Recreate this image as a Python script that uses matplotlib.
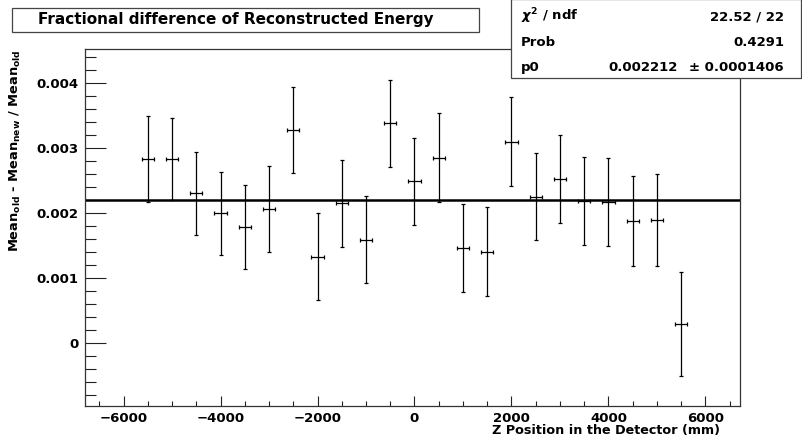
import matplotlib.pyplot as plt
from matplotlib.patches import Rectangle
from matplotlib.ticker import MultipleLocator, FuncFormatter

plt.rcParams['font.family'] = ['DejaVu Sans']
plt.rcParams['font.weight'] = 'bold'
plt.rcParams['mathtext.fontset'] = 'dejavusans'

# z position of each slice (mm)
z_pos = [-5500, -5000, -4500, -4000, -3500, -3000, -2500, -2000, -1500, -1000, -500, 0,
         500, 1000, 1500, 2000, 2500, 3000, 3500, 4000, 4500, 5000, 5500]
frac_diff = [0.002833, 0.002842, 0.002305, 0.001999, 0.001790, 0.002060, 0.003277, 0.001334,
             0.002157, 0.001590, 0.003384, 0.002490, 0.002857, 0.001462, 0.001411, 0.003103,
             0.002255, 0.002531, 0.002188, 0.002178, 0.001882, 0.001902, 0.000302]
frac_err = [0.00066, 0.00063, 0.00064, 0.00064, 0.00065, 0.00066, 0.00066, 0.00067,
            0.00067, 0.00067, 0.00067, 0.00067, 0.00068, 0.00068, 0.00068, 0.00068,
            0.00067, 0.00068, 0.00068, 0.00068, 0.00069, 0.00071, 0.00080]
z_halfwidth = 125

# fit result (pol0)
p0 = 0.002212
stats_labels = [r'$\chi^{2}$ / ndf', 'Prob', 'p0']
stats_values = ['22.52 / 22', '0.4291', '0.002212']
p0_err_text = '± 0.0001406'

W, H = 802, 441
fig = plt.figure(figsize=(W / 100, H / 100), dpi=100)
ax = fig.add_axes([85.3 / W, 1 - 406 / H, (740.3 - 85.3) / W, (406 - 49.3) / H])

ax.errorbar(z_pos, frac_diff, yerr=frac_err, xerr=z_halfwidth, fmt='none',
            ecolor='black', elinewidth=0.9, capsize=1.2, capthick=0.9)
ax.axhline(p0, color='black', lw=1.8)

ax.set_xlim(-6788, 6718)
ax.set_ylim(-0.000965, 0.004523)

ax.xaxis.set_major_locator(MultipleLocator(2000))
ax.xaxis.set_minor_locator(MultipleLocator(500))
ax.yaxis.set_major_locator(MultipleLocator(0.001))
ax.yaxis.set_minor_locator(MultipleLocator(0.0002))
ax.yaxis.set_major_formatter(FuncFormatter(lambda v, p: '0' if abs(v) < 1e-9 else f'{v:.3f}'))

ax.tick_params(axis='both', which='both', direction='in', top=False, right=False,
               width=0.8, colors='#222222', labelcolor='black', labelsize=9.5)
ax.tick_params(axis='x', which='major', length=7.2, pad=4)
ax.tick_params(axis='x', which='minor', length=3.6)
ax.tick_params(axis='y', which='major', length=14.9, pad=4.7)
ax.tick_params(axis='y', which='minor', length=7.7)
for lab in ax.get_xticklabels() + ax.get_yticklabels():
    lab.set_fontweight('bold')
for s in ax.spines.values():
    s.set_linewidth(0.9)
    s.set_color('#333333')

# axis titles, ROOT style (aligned at the axis end)
fig.text(15 / W, 1 - 49.3 / H,
         r'Mean$_{\mathbf{old}}$ - Mean$_{\mathbf{new}}$ / Mean$_{\mathbf{old}}$',
         rotation=90, ha='center', va='top', fontsize=9.4, fontweight='bold')
fig.text(720 / W, 1 - 434 / H, 'Z Position in the Detector (mm)',
         ha='right', va='baseline', fontsize=9.2, fontweight='bold')

# title box
fig.add_artist(Rectangle((11.7 / W, 1 - 31.7 / H), (479 - 11.7) / W, (31.7 - 8.3) / H,
                         transform=fig.transFigure, facecolor='white',
                         edgecolor='#444444', lw=0.9))
fig.text(236 / W, 1 - 24 / H, 'Fractional difference of Reconstructed Energy',
         ha='center', va='baseline', fontsize=11, fontweight='bold')

# fit statistics box
fig.add_artist(Rectangle((511 / W, 1 - 78 / H), (801 - 511) / W, 79 / H,
                         transform=fig.transFigure, facecolor='white',
                         edgecolor='#444444', lw=0.9, zorder=5))
row_y = [20.5, 46, 71]
for lab, val, yy in zip(stats_labels, stats_values, row_y):
    fig.text(521 / W, 1 - yy / H, lab, ha='left', va='baseline', fontsize=9.5,
             fontweight='bold', zorder=6)
    if lab == 'p0':
        fig.text(678 / W, 1 - yy / H, val, ha='right', va='baseline', fontsize=9.5,
                 fontweight='bold', zorder=6)
        fig.text(784 / W, 1 - yy / H, p0_err_text, ha='right', va='baseline', fontsize=9.5,
                 fontweight='bold', zorder=6)
    else:
        fig.text(784 / W, 1 - yy / H, val, ha='right', va='baseline', fontsize=9.5,
                 fontweight='bold', zorder=6)

fig.savefig('out.png', dpi=100)
